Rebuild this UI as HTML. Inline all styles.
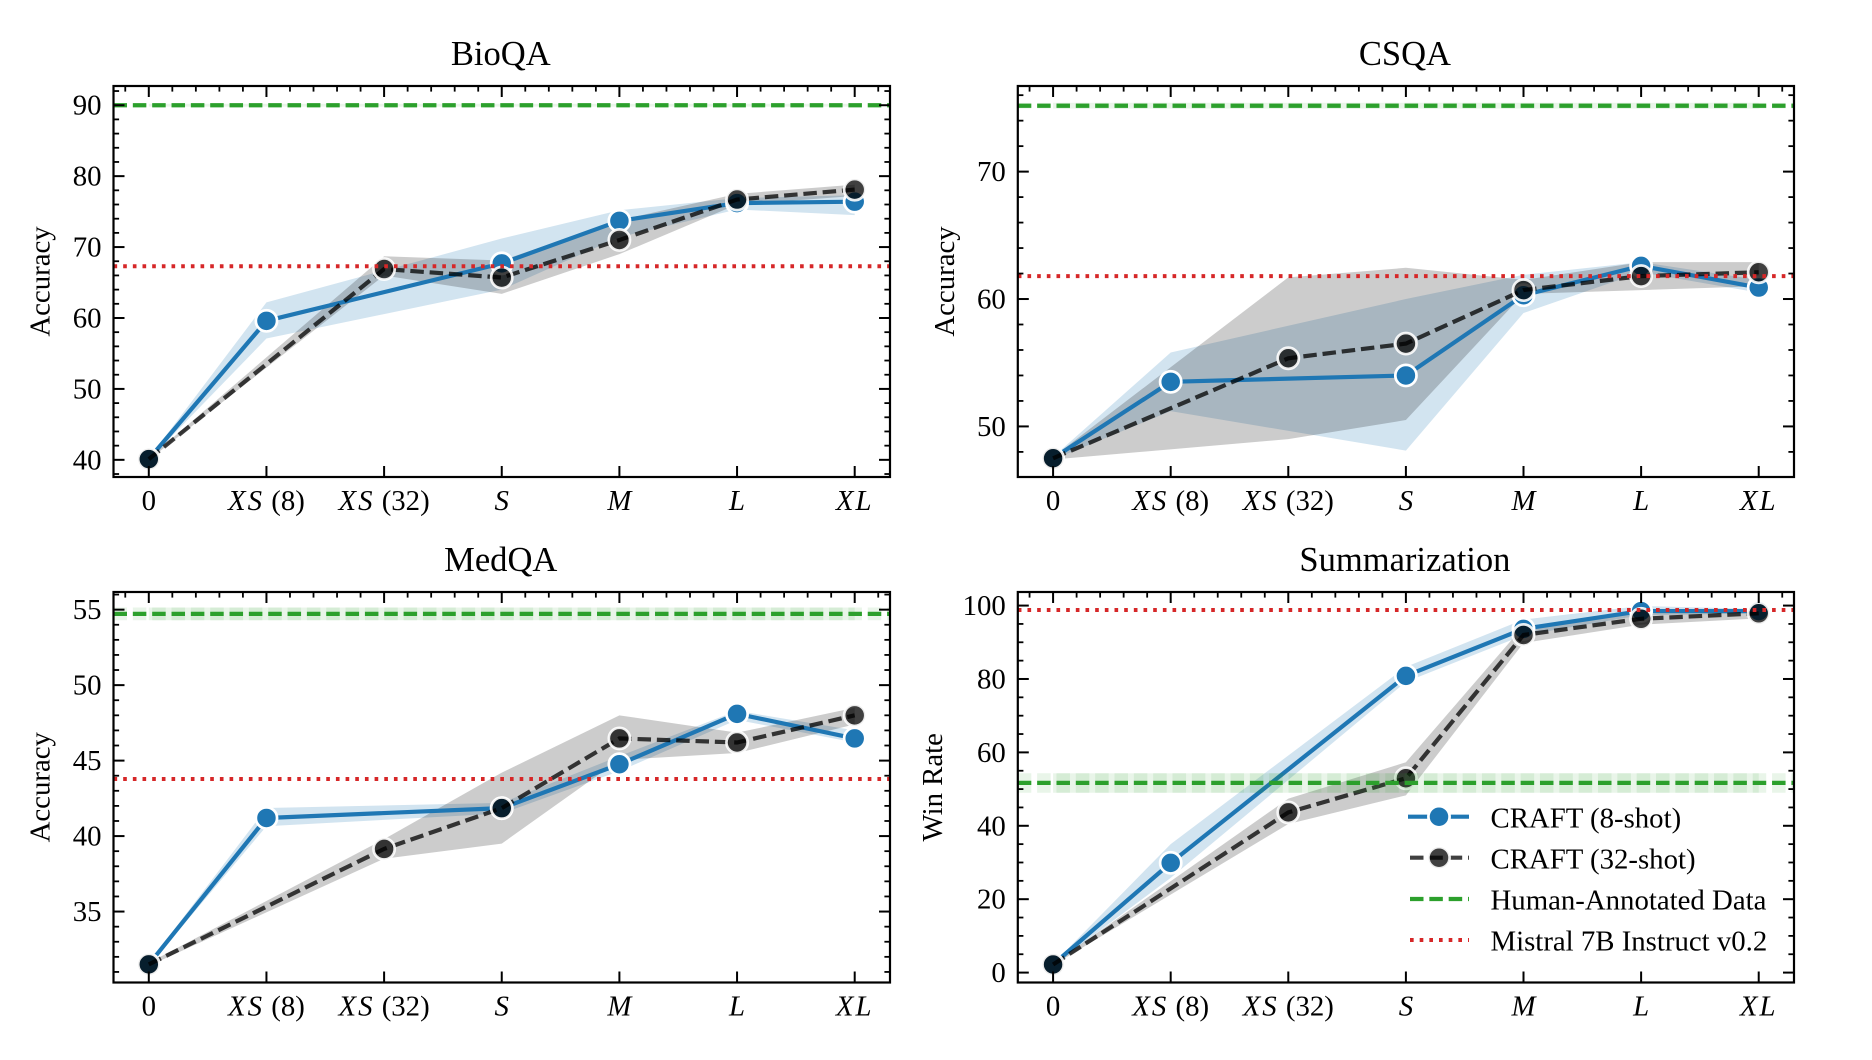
<!DOCTYPE html>
<html lang="en">
<head>
<meta charset="utf-8">
<title>CRAFT accuracy and win rate by dataset size</title>
<style>
html,body{margin:0;padding:0;background:#fff;}
svg{display:block;font-family:"Liberation Serif","Times New Roman",serif;}
</style>
</head>
<body>
<svg id="chart" xmlns="http://www.w3.org/2000/svg" width="1872" height="1060" viewBox="0 0 1872 1060">
  <rect x="0" y="0" width="1872" height="1060" fill="#ffffff"/>
  <g id="panels"></g>
  <g id="legend">
    <g>
      <line x1="1408" x2="1469" y1="816.7" y2="816.7" stroke="#1f77b4" stroke-width="4.2"/>
      <circle cx="1439" cy="816.7" r="10.6" fill="#1f77b4" stroke="#ffffff" stroke-width="2.7"/>
      <text x="1490.5" y="827.5" font-size="28.8" fill="#000">CRAFT (8-shot)</text>
    </g>
    <g>
      <line x1="1410" x2="1469" y1="857.7" y2="857.7" stroke="#000" stroke-opacity="0.75" stroke-width="4.2" stroke-dasharray="13.5 5.84"/>
      <circle cx="1439" cy="857.7" r="10.6" fill="#000" fill-opacity="0.75" stroke="#ffffff" stroke-opacity="0.9" stroke-width="2.7"/>
      <text x="1490.5" y="868.5" font-size="28.8" fill="#000">CRAFT (32-shot)</text>
    </g>
    <g>
      <line x1="1410" x2="1469" y1="899" y2="899" stroke="#2ca02c" stroke-width="4.2" stroke-dasharray="13.5 5.84"/>
      <text x="1490.5" y="909.5" font-size="28.8" fill="#000">Human-Annotated Data</text>
    </g>
    <g>
      <line x1="1410" x2="1469" y1="940" y2="940" stroke="#d62728" stroke-width="4" stroke-dasharray="3.65 6.02"/>
      <text x="1490.5" y="950.5" font-size="28.8" fill="#000">Mistral 7B Instruct v0.2</text>
    </g>
  </g>
</svg>
<script>
// Shared x axis
const categories = ["0", "XS (8)", "XS (32)", "S", "M", "L", "XL"];

// BioQA
const bioYTicks = [40, 50, 60, 70, 80, 90];
const bioBlue = [40.1, 59.6, null, 67.7, 73.7, 76.2, 76.4];
const bioBlueLow = [40.0, 57.1, null, 64.0, 71.4, 75.3, 74.5];
const bioBlueHigh = [40.2, 62.2, null, 71.2, 75.2, 76.9, 77.3];
const bioDark = [40.1, null, 66.9, 65.7, 71.0, 76.7, 78.1];
const bioDarkLow = [40.0, null, 66.0, 63.4, 69.0, 76.0, 77.2];
const bioDarkHigh = [40.2, null, 68.7, 68.1, 73.8, 77.5, 78.8];
const bioHuman = [90.0, 89.8, 90.2];
const bioMistral = [67.3];

// CSQA
const csYTicks = [50, 60, 70];
const csBlue = [47.5, 53.5, null, 54.0, 60.3, 62.6, 60.9];
const csBlueLow = [47.4, 51.2, null, 48.1, 58.9, 62.1, 60.5];
const csBlueHigh = [47.6, 55.8, null, 60.0, 61.9, 62.9, 61.5];
const csDark = [47.5, null, 55.35, 56.5, 60.7, 61.8, 62.1];
const csDarkLow = [47.4, null, 49.0, 50.5, 60.4, 60.7, 61.0];
const csDarkHigh = [47.6, null, 61.7, 62.45, 61.5, 62.9, 62.9];
const csHuman = [75.17, 74.95, 75.4];
const csMistral = [61.8];

// MedQA
const medYTicks = [35, 40, 45, 50, 55];
const medBlue = [31.5, 41.2, null, 41.85, 44.76, 48.1, 46.47];
const medBlueLow = [31.4, 40.65, null, 41.5, 44.3, 47.7, 46.2];
const medBlueHigh = [31.6, 41.86, null, 42.2, 45.3, 48.3, 47.0];
const medDark = [31.5, null, 39.15, 41.85, 46.47, 46.2, 48.0];
const medDarkLow = [31.4, null, 38.5, 39.5, 45.05, 45.5, 47.4];
const medDarkHigh = [31.6, null, 39.8, 44.2, 48.0, 46.85, 48.5];
const medHuman = [54.72, 54.3, 55.14];
const medMistral = [43.78];

// Summarization
const sumYTicks = [0, 20, 40, 60, 80, 100];
const sumBlue = [2.2, 29.9, null, 80.85, 93.65, 98.5, 98.5];
const sumBlueLow = [2.0, 25.8, null, 79.2, 91.9, 97.4, 97.8];
const sumBlueHigh = [2.4, 35.0, null, 83.3, 96.2, 99.9, 99.1];
const sumDark = [2.2, null, 43.65, 52.95, 92.0, 96.4, 97.9];
const sumDarkLow = [2.0, null, 40.5, 48.3, 89.8, 94.8, 96.5];
const sumDarkHigh = [2.4, null, 47.4, 57.3, 94.4, 97.8, 99.0];
const sumHuman = [51.7, 49.0, 54.3];
const sumMistral = [98.8];

const NS = "http://www.w3.org/2000/svg";
const BLUE = "#1f77b4";
const GREEN = "#2ca02c";
const RED = "#d62728";
const DASH = "13.5 5.84";
const DOT = "3.65 6.02";
const LINE_W = "4.2";
const panelsRoot = document.getElementById("panels");

function make(parent, tag, name, interact, props) {
  const el = document.createElementNS(NS, tag);
  
  
  for (const key in props) el.setAttribute(key, props[key]);
  parent.appendChild(el);
  return el;
}

function drawPanel(p) {
  const g = make(panelsRoot, "g", "panel-" + p.slug, "false", {});
  const xScale = function (i) { return p.left + (i + 0.3) * (p.right - p.left) / 6.6; };
  const yScale = function (v) { return p.bottom - (v - p.yMin) * (p.bottom - p.top) / (p.yMax - p.yMin); };

  const bandPath = function (low, high) {
    const idx = [];
    categories.forEach(function (c, i) { if (low[i] !== null) idx.push(i); });
    const up = idx.map(function (i) { return xScale(i).toFixed(2) + "," + yScale(high[i]).toFixed(2); });
    const down = idx.slice().reverse().map(function (i) { return xScale(i).toFixed(2) + "," + yScale(low[i]).toFixed(2); });
    return up.concat(down).join(" ");
  };
  const linePath = function (vals) {
    const pts = [];
    vals.forEach(function (v, i) { if (v !== null) pts.push(xScale(i).toFixed(2) + "," + yScale(v).toFixed(2)); });
    return pts.join(" ");
  };

  // title
  const title = make(g, "text", p.slug + "-title", "false", {
    x: (p.left + p.right) / 2 - 1, y: p.top - 21, "text-anchor": "middle", "font-size": "34.56", fill: "#000"
  });
  title.textContent = p.title;

  // y label
  const yl = make(g, "text", p.slug + "-y-axis-title", "false", {
    transform: "translate(" + p.ylabelX + "," + ((p.top + p.bottom) / 2) + ") rotate(-90)",
    "text-anchor": "middle", "font-size": "28.8", fill: "#000"
  });
  yl.textContent = p.ylabel;

  // bands sit beneath every line and marker
  make(g, "polygon", p.slug + "-band-craft-8-shot", "false", {
    points: bandPath(p.blueLow, p.blueHigh), fill: BLUE, "fill-opacity": "0.2"
  });
  make(g, "polygon", p.slug + "-band-craft-32-shot", "false", {
    points: bandPath(p.darkLow, p.darkHigh), fill: "#000", "fill-opacity": "0.2"
  });

  // blue series
  make(g, "polyline", p.slug + "-line-craft-8-shot", "false", {
    points: linePath(p.blue), fill: "none", stroke: BLUE, "stroke-width": LINE_W, "stroke-linejoin": "round"
  });
  p.blue.forEach(function (v, i) {
    if (v === null) return;
    make(g, "circle", p.slug + "-point-craft-8-shot-" + i, "false", {
      cx: xScale(i), cy: yScale(v), r: "10.6", fill: BLUE, stroke: "#fff", "stroke-width": "2.7"
    });
  });

  // dark series
  make(g, "polyline", p.slug + "-line-craft-32-shot", "false", {
    points: linePath(p.dark), fill: "none", stroke: "#000", "stroke-opacity": "0.75",
    "stroke-width": LINE_W, "stroke-dasharray": DASH
  });
  p.dark.forEach(function (v, i) {
    if (v === null) return;
    make(g, "circle", p.slug + "-point-craft-32-shot-" + i, "false", {
      cx: xScale(i), cy: yScale(v), r: "10.6", fill: "#000", "fill-opacity": "0.75",
      stroke: "#fff", "stroke-opacity": "0.9", "stroke-width": "2.7"
    });
  });

  // human reference: mean, low, high
  const hY = yScale(p.human[0]);
  const hLow = yScale(p.human[1]);
  const hHigh = yScale(p.human[2]);
  make(g, "rect", p.slug + "-human-band", "false", {
    x: xScale(0), width: xScale(categories.length - 1) - xScale(0), y: hHigh, height: hLow - hHigh,
    fill: GREEN, "fill-opacity": "0.1"
  });
  make(g, "line", p.slug + "-human-band-dashes", "false", {
    x1: p.left, x2: p.right, y1: (hLow + hHigh) / 2, y2: (hLow + hHigh) / 2,
    stroke: GREEN, "stroke-opacity": "0.1", "stroke-width": hLow - hHigh, "stroke-dasharray": DASH
  });
  make(g, "line", p.slug + "-human-annotated-line", "false", {
    x1: p.left, x2: p.right, y1: hY, y2: hY, stroke: GREEN, "stroke-width": LINE_W, "stroke-dasharray": DASH
  });

  // mistral reference
  const mY = yScale(p.mistral[0]);
  make(g, "line", p.slug + "-mistral-line", "false", {
    x1: p.left, x2: p.right, y1: mY, y2: mY, stroke: RED, "stroke-width": "4", "stroke-dasharray": DOT
  });

  // y ticks
  const majorLen = 11, minorLen = 5.6;
  const step = p.minorStep;
  for (let k = Math.ceil(p.yMin / step); k * step <= p.yMax; k++) {
    const v = k * step;
    const isMajor = p.yTicks.indexOf(v) >= 0;
    const y = yScale(v);
    const len = isMajor ? majorLen : minorLen;
    const w = isMajor ? "2" : "1.8";
    make(g, "line", p.slug + "-y-tick-left-" + v, "false", { x1: p.left, x2: p.left + len, y1: y, y2: y, stroke: "#000", "stroke-width": w });
    make(g, "line", p.slug + "-y-tick-right-" + v, "false", { x1: p.right, x2: p.right - len, y1: y, y2: y, stroke: "#000", "stroke-width": w });
    if (isMajor) {
      const t = make(g, "text", p.slug + "-y-tick-label-" + v, "false", {
        x: p.left - 12, y: y + 9.5, "text-anchor": "end", "font-size": "28.8", fill: "#000"
      });
      t.textContent = String(v);
    }
  }

  // x ticks
  categories.forEach(function (c, i) {
    const x = xScale(i);
    make(g, "line", p.slug + "-x-tick-bottom-" + i, "false", { x1: x, x2: x, y1: p.bottom, y2: p.bottom - majorLen, stroke: "#000", "stroke-width": "2" });
    make(g, "line", p.slug + "-x-tick-top-" + i, "false", { x1: x, x2: x, y1: p.top, y2: p.top + majorLen, stroke: "#000", "stroke-width": "2" });
    const t = make(g, "text", p.slug + "-x-tick-label-" + i, "false", {
      x: x, y: p.bottom + 33, "text-anchor": "middle", "font-size": "28.8", fill: "#000"
    });
    const m = c.match(/^([A-Z]+)(.*)$/);
    if (m) {
      const it = make(t, "tspan", p.slug + "-x-tick-size-" + i, "false", { "font-style": "italic", "letter-spacing": m[1].length > 1 ? "2" : "0" });
      it.textContent = m[1];
      if (m[2]) t.appendChild(document.createTextNode(m[2]));
    } else {
      t.textContent = c;
    }
  });
  for (let k = -1; k <= 31; k++) {
    if (k % 5 === 0) continue;
    const x = xScale(k * 0.2);
    make(g, "line", p.slug + "-x-minor-tick-top-" + k, "false", { x1: x, x2: x, y1: p.top, y2: p.top + minorLen, stroke: "#000", "stroke-width": "1.8" });
  }

  // frame
  make(g, "rect", p.slug + "-axes-frame", "false", {
    x: p.left, y: p.top, width: p.right - p.left, height: p.bottom - p.top, fill: "none", stroke: "#000", "stroke-width": "2.2"
  });
}

drawPanel({ slug: "bioqa", title: "BioQA", ylabel: "Accuracy", ylabelX: 49.5,
  left: 113.5, right: 890, top: 86, bottom: 477, yMin: 37.58, yMax: 92.71, minorStep: 2, yTicks: bioYTicks,
  blue: bioBlue, blueLow: bioBlueLow, blueHigh: bioBlueHigh, dark: bioDark, darkLow: bioDarkLow, darkHigh: bioDarkHigh,
  human: bioHuman, mistral: bioMistral });
drawPanel({ slug: "csqa", title: "CSQA", ylabel: "Accuracy", ylabelX: 954,
  left: 1017.8, right: 1794, top: 86, bottom: 477, yMin: 46.03, yMax: 76.72, minorStep: 2, yTicks: csYTicks,
  blue: csBlue, blueLow: csBlueLow, blueHigh: csBlueHigh, dark: csDark, darkLow: csDarkLow, darkHigh: csDarkHigh,
  human: csHuman, mistral: csMistral });
drawPanel({ slug: "medqa", title: "MedQA", ylabel: "Accuracy", ylabelX: 49.5,
  left: 113.5, right: 890, top: 592, bottom: 982.5, yMin: 30.3, yMax: 56.17, minorStep: 1, yTicks: medYTicks,
  blue: medBlue, blueLow: medBlueLow, blueHigh: medBlueHigh, dark: medDark, darkLow: medDarkLow, darkHigh: medDarkHigh,
  human: medHuman, mistral: medMistral });
drawPanel({ slug: "summarization", title: "Summarization", ylabel: "Win Rate", ylabelX: 942,
  left: 1017.8, right: 1794, top: 592, bottom: 982.5, yMin: -2.7, yMax: 103.7, minorStep: 5, yTicks: sumYTicks,
  blue: sumBlue, blueLow: sumBlueLow, blueHigh: sumBlueHigh, dark: sumDark, darkLow: sumDarkLow, darkHigh: sumDarkHigh,
  human: sumHuman, mistral: sumMistral });
</script>
</body>
</html>
